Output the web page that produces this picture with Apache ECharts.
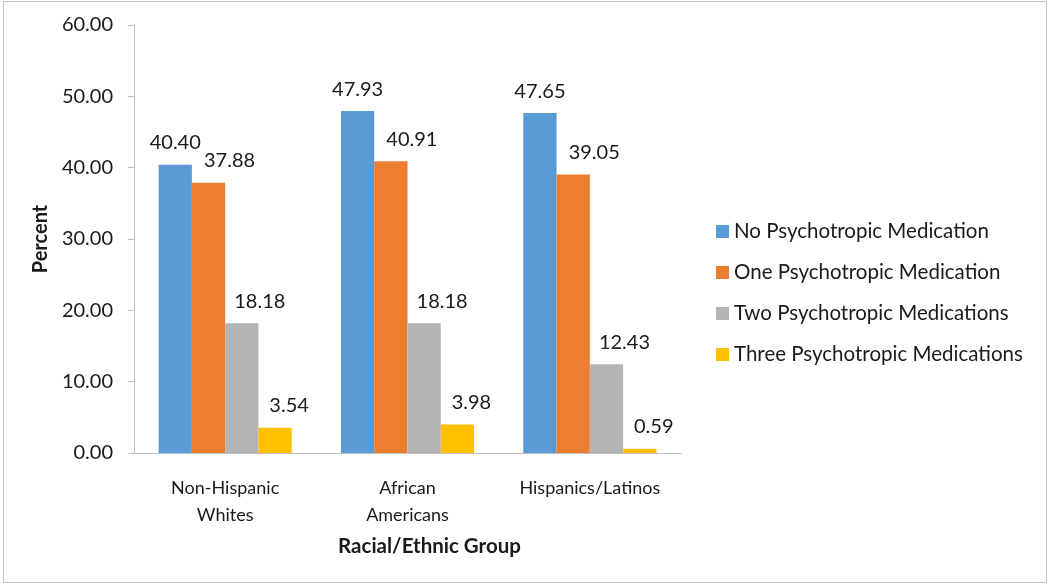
<!DOCTYPE html>
<html>
<head>
<meta charset="utf-8">
<script src="https://cdn.jsdelivr.net/npm/echarts@6/dist/echarts.min.js"></script>
<style>
  html, body { margin: 0; padding: 0; background: #ffffff; }
  #chart { width: 1050px; height: 585px; }
</style>
</head>
<body>
<div id="chart"></div>
<script>
const categories = ['Non-Hispanic\nWhites', 'African\nAmericans', 'Hispanics/Latinos'];
const seriesNames = ['No Psychotropic Medication', 'One Psychotropic Medication', 'Two Psychotropic Medications', 'Three Psychotropic Medications'];
const noMedication = [40.40, 47.93, 47.65];
const oneMedication = [37.88, 40.91, 39.05];
const twoMedications = [18.18, 18.18, 12.43];
const threeMedications = [3.54, 3.98, 0.59];
const yTicks = [0, 10, 20, 30, 40, 50, 60];

const FONT = 'Lato, "Open Sans", sans-serif';
const colors = ['#5B9BD5', '#ED7D31', '#B4B4B4', '#FFC000'];
const seriesData = [noMedication, oneMedication, twoMedications, threeMedications];
const labelShift = [0, 21, 18, 14];

const chart = echarts.init(document.getElementById('chart'), null, { renderer: 'canvas' });

const option = {
  animation: false,
  backgroundColor: '#ffffff',
  color: colors,
  grid: { left: 134, top: 25, right: 369, bottom: 132, containLabel: false },
  legend: {
    orient: 'vertical',
    left: 716,
    top: 221,
    padding: 0,
    itemWidth: 13,
    itemHeight: 13,
    itemGap: 20,
    icon: 'rect',
    textStyle: { fontFamily: FONT, fontSize: 20.5, color: '#1a1a1a' },
    data: seriesNames
  },
  xAxis: {
    type: 'category',
    data: categories,
    axisLine: { show: true, lineStyle: { color: '#BFBFBF', width: 1 } },
    axisTick: { show: false },
    axisLabel: { fontFamily: FONT, fontSize: 18, color: '#1a1a1a', margin: 22, lineHeight: 27, interval: 0 },
    name: 'Racial/Ethnic Group',
    nameLocation: 'middle',
    nameGap: 83,
    nameTextStyle: { fontFamily: FONT, fontSize: 20.5, fontWeight: 'bold', color: '#1a1a1a', padding: [0, 0, 0, 44] }
  },
  yAxis: {
    type: 'value',
    min: yTicks[0],
    max: yTicks[yTicks.length - 1],
    interval: yTicks[1] - yTicks[0],
    axisLine: { show: true, lineStyle: { color: '#BFBFBF', width: 1 } },
    axisTick: { show: true, length: 6, lineStyle: { color: '#BFBFBF' } },
    splitLine: { show: false },
    axisLabel: { fontFamily: FONT, fontSize: 20, color: '#1a1a1a', margin: 21, formatter: v => v.toFixed(2) },
    name: 'Percent',
    nameLocation: 'middle',
    nameGap: 81,
    nameRotate: 90,
    nameTextStyle: { fontFamily: FONT, fontSize: 20, fontWeight: 'bold', color: '#1a1a1a' }
  },
  series: seriesNames.map((name, i) => ({
    name: name,
    type: 'bar',
    data: seriesData[i],
    barGap: '0%',
    barCategoryGap: '27%',
    itemStyle: { color: colors[i] },
    label: {
      show: true,
      position: 'top',
      distance: 12,
      offset: [labelShift[i], 0],
      fontFamily: FONT,
      fontSize: 20,
      color: '#1a1a1a',
      formatter: p => p.value.toFixed(2)
    }
  })),
  graphic: [{
    type: 'rect',
    silent: true,
    z: -1,
    shape: { x: 3.5, y: 1.5, width: 1043, height: 581 },
    style: { fill: 'none', stroke: '#C4C4C4', lineWidth: 1 }
  }]
};

chart.setOption(option);
</script>
</body>
</html>
